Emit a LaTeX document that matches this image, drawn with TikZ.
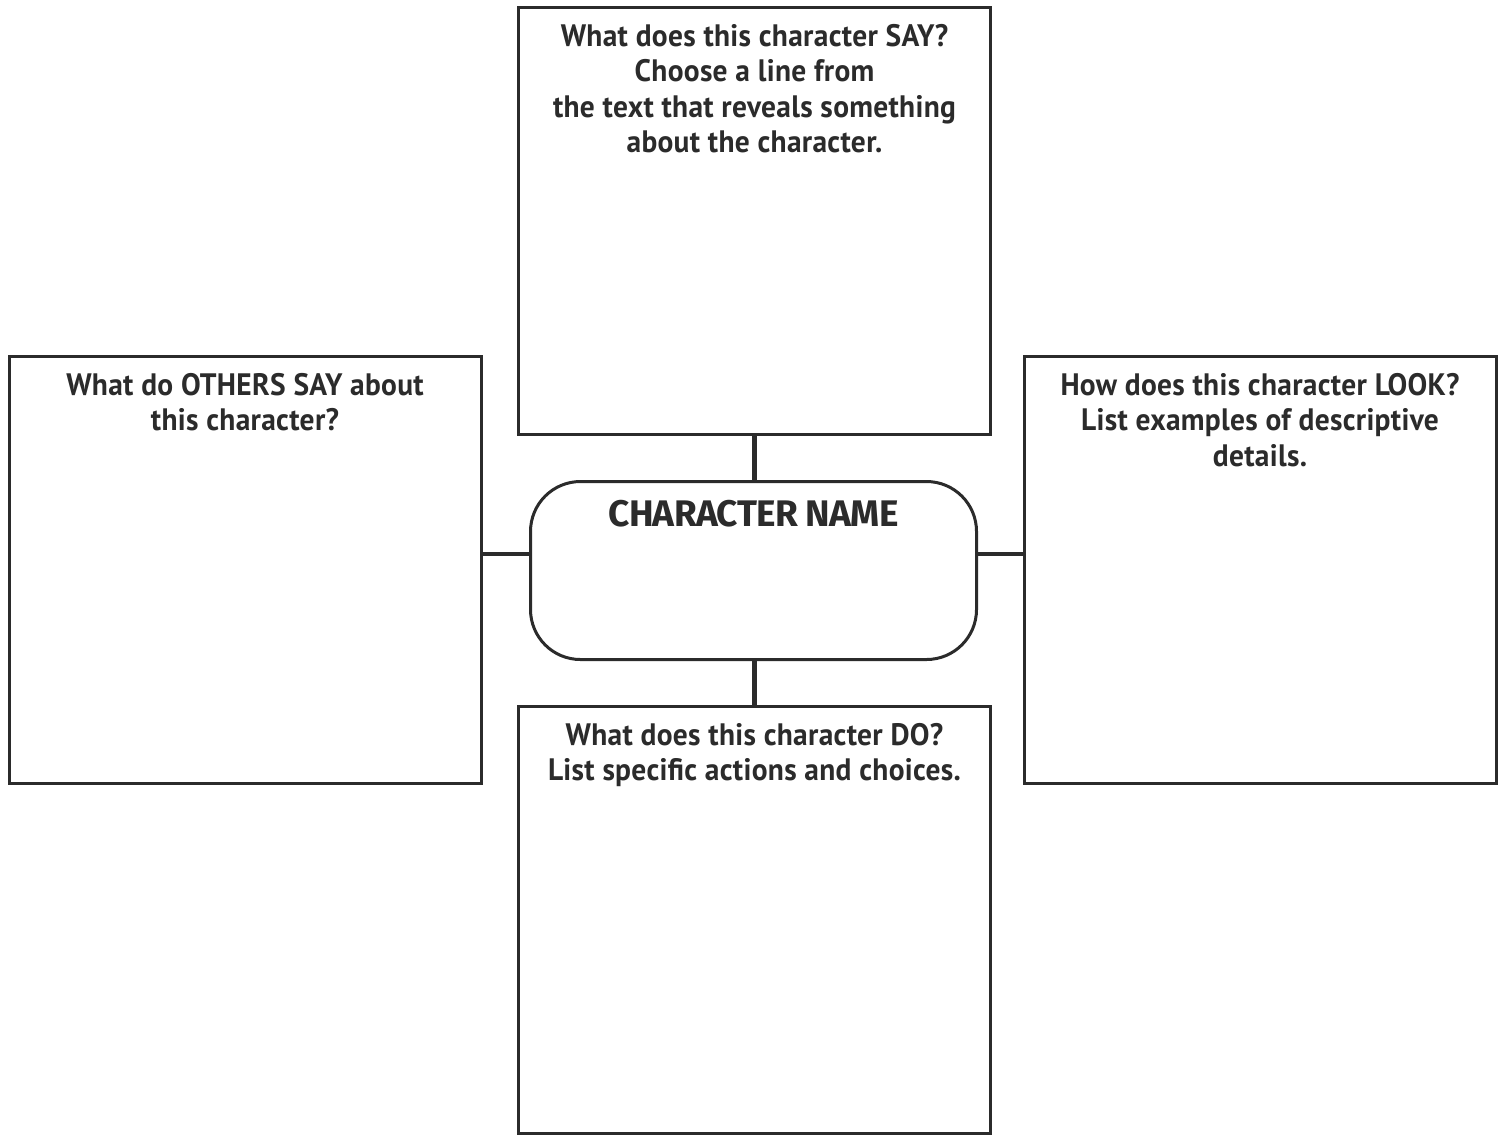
\documentclass[tikz,border=0pt]{standalone}
\usepackage{fontspec}
\setmainfont{PT Sans}[FakeStretch=0.95,LetterSpace=1]
\newfontfamily\namefont{Fira Sans}[LetterSpace=-2]
\usetikzlibrary{positioning}
\definecolor{ink}{HTML}{2B2B2B}

\tikzset{
  promptbox/.style={draw=ink,line width=1.5pt,minimum width=236pt,minimum height=213.5pt,inner sep=0pt},
  prompt/.style={anchor=north,inner sep=0pt,yshift=-9pt,align=center,text=ink,
    font=\bfseries\fontsize{15.5}{17.7}\selectfont},
  namebox/.style={draw=ink,line width=1.5pt,rounded corners=25pt,minimum width=223pt,minimum height=89pt,inner sep=0pt},
  link/.style={draw=ink,line width=2.2pt},
}

\begin{document}
\begin{tikzpicture}[x=0.5pt,y=-0.5pt]
	\useasboundingbox (0,0) rectangle (1502,1137);
	%name in the middle
	\node[namebox,label={[anchor=north,inner sep=0pt,yshift=-10pt,text=ink,font=\namefont\bfseries\fontsize{18.5}{20}\selectfont]north:CHARACTER NAME}] (name) at (753.5,570.5) {};
	%prompt boxes
	\node[promptbox,label={[prompt]north:What does this character SAY?\\Choose a line from\\the text that reveals something\\about the character.}] (say) at (754.5,221) {};
	\node[promptbox,label={[prompt]north:What do OTHERS SAY about\\this character?}] (others) at (245,570) {};
	\node[promptbox,label={[prompt]north:How does this character LOOK?\\List examples of descriptive\\details.}] (look) at (1260,570) {};
	\node[promptbox,label={[prompt]north:What does this character DO?\\List specific actions and choices.}] (do) at (754.5,920) {};
	%links
	\draw[link] (say.south) -- (say.south |- name.north);
	\draw[link] (do.north) -- (do.north |- name.south);
	\draw[link] ([yshift=8pt]others.east) -- ([yshift=8pt]others.east -| name.west);
	\draw[link] ([yshift=8pt]look.west) -- ([yshift=8pt]look.west -| name.east);
\end{tikzpicture}
\end{document}
